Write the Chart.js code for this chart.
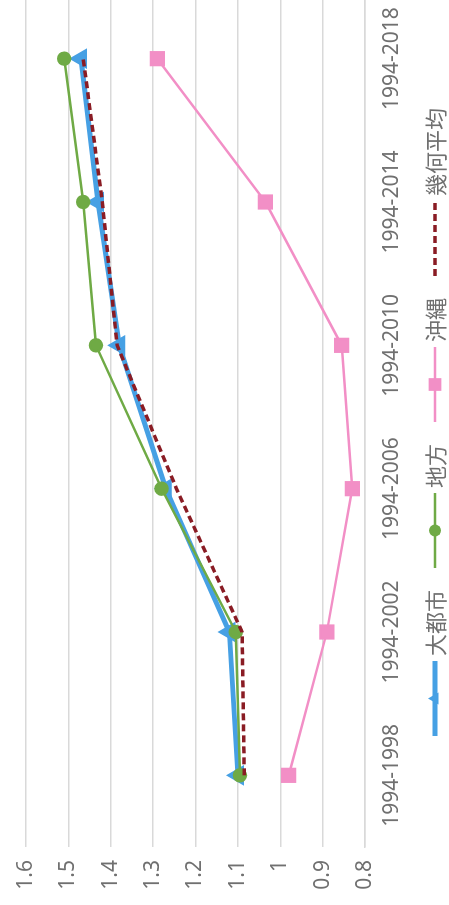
<!DOCTYPE html>
<html lang="ja">
<head>
<meta charset="utf-8">
<title>実質賃金指数の推移</title>
<script src="https://cdn.jsdelivr.net/npm/chart.js@4/dist/chart.umd.min.js"></script>
<style>
  html, body { margin: 0; padding: 0; background: #fff; overflow: hidden; width: 449px; height: 905px; }
  /* landscape chart turned a quarter turn counter-clockwise */
  #wrap { position: absolute; left: 0; top: 0; width: 930px; height: 449px;
          transform-origin: 0 0; transform: translateY(905px) rotate(-90deg); }
</style>
</head>
<body>
<div id="wrap"><canvas id="c" width="930" height="449"></canvas></div>
<script>
// periods on the category axis
const categories = ['1994-1998', '1994-2002', '1994-2006', '1994-2010', '1994-2014', '1994-2018'];

// series values
const metroValues    = [1.10, 1.12, 1.27, 1.38, 1.43, 1.47];   // 大都市
const regionalValues = [1.095, 1.105, 1.28, 1.435, 1.465, 1.51]; // 地方
const okinawaValues  = [0.98, 0.89, 0.83, 0.855, 1.035, 1.29];  // 沖縄
const geoMeanValues  = [1.085, 1.09, 1.245, 1.385, 1.42, 1.465]; // 幾何平均

// value axis range and step
const axisMin = 0.8;
const axisMax = 1.6;
const axisStep = 0.1;

const tickFont = { family: '"Noto Sans", "Noto Sans CJK JP", sans-serif', size: 21 };
const tickColor = '#707070';
const gridColor = '#d9d9d9';

function drawMarker(ctx, style, r, x, y, color) {
  ctx.save();
  ctx.fillStyle = color;
  ctx.beginPath();
  if (style === 'circle') {
    ctx.arc(x, y, r, 0, Math.PI * 2);
  } else if (style === 'rect') {
    const s = r * Math.SQRT1_2;
    ctx.rect(x - s, y - s, 2 * s, 2 * s);
  } else if (style === 'triangle') {
    ctx.moveTo(x, y - r);
    ctx.lineTo(x + r * 0.866, y + r * 0.5);
    ctx.lineTo(x - r * 0.866, y + r * 0.5);
    ctx.closePath();
  }
  ctx.fill();
  ctx.restore();
}

// legend drawn as line + marker + label, centred under the plot
const lineLegend = {
  id: 'lineLegend',
  afterDraw(chart) {
    const ctx = chart.ctx;
    const sets = chart.data.datasets;
    const L = 75, gap = 5, spacing = 22;
    ctx.save();
    ctx.font = '22px "Noto Sans CJK JP", sans-serif';
    const widths = sets.map(d => ctx.measureText(d.label).width);
    const total = widths.reduce((a, w) => a + L + gap + w, 0) + spacing * (sets.length - 1);
    let x = 483 - total / 2;
    const y = chart.height - 14;
    sets.forEach((d, i) => {
      ctx.strokeStyle = d.borderColor;
      ctx.lineWidth = d.borderWidth;
      ctx.setLineDash(d.borderDash || []);
      ctx.beginPath();
      ctx.moveTo(x, y);
      ctx.lineTo(x + L, y);
      ctx.stroke();
      ctx.setLineDash([]);
      if (d.pointRadius > 0) drawMarker(ctx, d.pointStyle, d.pointRadius, x + L / 2, y, d.borderColor);
      ctx.fillStyle = '#707070';
      ctx.textBaseline = 'middle';
      ctx.textAlign = 'left';
      ctx.fillText(d.label, x + L + gap, y + 1);
      x += L + gap + widths[i] + spacing;
    });
    ctx.restore();
  }
};

new Chart(document.getElementById('c'), {
  type: 'line',
  data: {
    labels: categories,
    datasets: [
      { label: '大都市', data: metroValues, borderColor: '#46a0e4', backgroundColor: '#46a0e4',
        borderWidth: 5, pointStyle: 'triangle', pointRadius: 7, order: 4 },
      { label: '地方', data: regionalValues, borderColor: '#6faa45', backgroundColor: '#6faa45',
        borderWidth: 2.5, pointStyle: 'circle', pointRadius: 6, order: 3 },
      { label: '沖縄', data: okinawaValues, borderColor: '#f28fc6', backgroundColor: '#f28fc6',
        borderWidth: 2.5, pointStyle: 'rect', pointRadius: 9, order: 2 },
      { label: '幾何平均', data: geoMeanValues, borderColor: '#8a1c24', backgroundColor: '#8a1c24',
        borderWidth: 3.5, borderDash: [7, 4], pointRadius: 0, order: 1 }
    ]
  },
  options: {
    responsive: false,
    animation: false,
    events: [],
    layout: { padding: { top: 26, left: 0, right: 0, bottom: 0 } },
    plugins: { legend: { display: false }, tooltip: { enabled: false }, title: { display: false } },
    elements: { line: { tension: 0 } },
    scales: {
      x: {
        offset: true,
        grid: { display: false, drawTicks: false },
        border: { display: true, color: gridColor, width: 1.5 },
        ticks: { padding: 14, maxRotation: 0, minRotation: 0, autoSkip: false, color: tickColor, font: tickFont },
        afterFit(scale) { scale.height = 84; }
      },
      y: {
        min: axisMin,
        max: axisMax,
        grid: { color: gridColor, lineWidth: 1.5, drawTicks: false },
        border: { display: false },
        ticks: {
          stepSize: axisStep,
          padding: 13,
          color: tickColor,
          font: tickFont,
          callback: v => String(Math.round(v * 10) / 10)
        },
        afterFit(scale) { scale.width = 58; }
      }
    }
  },
  plugins: [lineLegend]
});
</script>
</body>
</html>
